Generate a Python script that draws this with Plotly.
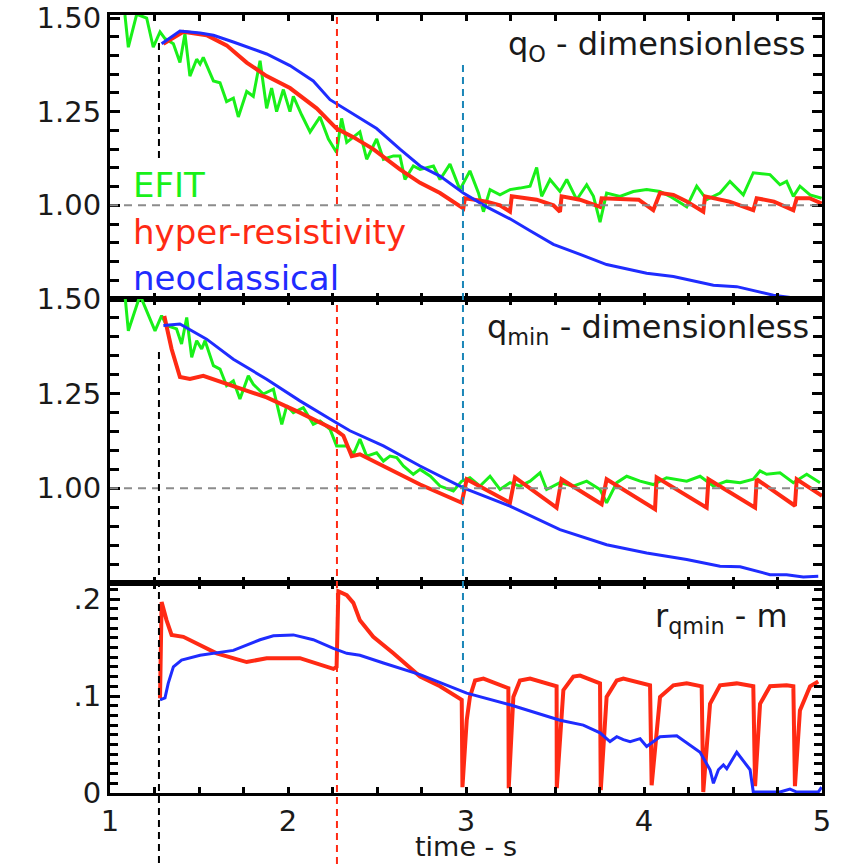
import plotly.graph_objects as go
from plotly.subplots import make_subplots

# ---------------- data ----------------
efit_q0_t = [1.084,1.103,1.150,1.206,1.243,1.281,1.309,1.356,1.393,1.421,1.449,1.487,1.506,1.524,1.581,1.618,1.655,1.693,1.721,1.768,1.805,1.843,1.880,1.908,1.936,1.974,2.011,2.030,2.077,2.124,2.180,2.227,2.273,2.301,2.330,2.404,2.442,2.498,2.536,2.592,2.629,2.657,2.704,2.742,2.817,2.854,2.910,2.966,3.022,3.070,3.098,3.135,3.191,3.247,3.303,3.360,3.397,3.425,3.472,3.528,3.566,3.622,3.678,3.716,3.753,3.790,3.865,3.940,4.015,4.090,4.146,4.240,4.296,4.352,4.427,4.483,4.558,4.614,4.708,4.764,4.801,4.839,4.876,4.933,4.998]
efit_q0 = [1.508,1.422,1.51,1.50,1.422,1.463,1.445,1.431,1.381,1.458,1.345,1.390,1.377,1.395,1.332,1.327,1.277,1.286,1.236,1.304,1.291,1.386,1.259,1.313,1.25,1.309,1.25,1.291,1.241,1.196,1.236,1.177,1.141,1.232,1.168,1.196,1.123,1.177,1.123,1.132,1.132,1.069,1.105,1.096,1.105,1.069,1.110,1.042,1.092,1.033,0.983,1.042,1.028,1.042,1.046,1.051,1.101,1.024,1.069,1.037,1.069,1.015,1.055,1.024,0.955,1.033,1.024,1.037,1.042,1.037,1.024,0.996,1.051,1.015,1.033,1.064,1.028,1.087,1.082,1.055,1.064,1.024,1.051,1.028,1.019]
hyper_q0_t = [1.300,1.412,1.543,1.655,1.768,1.880,2.011,2.161,2.273,2.367,2.479,2.629,2.742,2.854,2.985,2.994,3.116,3.191,3.247,3.257,3.397,3.491,3.528,3.537,3.640,3.753,3.762,3.970,4.052,4.090,4.165,4.240,4.333,4.343,4.480,4.614,4.633,4.730,4.839,4.858,4.930,4.998]
hyper_q0 = [1.431,1.463,1.454,1.427,1.381,1.345,1.313,1.259,1.205,1.182,1.150,1.096,1.060,1.033,0.992,1.019,1.010,1.000,0.983,1.024,1.015,1.000,0.983,1.024,1.015,0.996,1.019,1.015,0.987,1.033,1.028,1.010,0.983,1.024,1.010,0.987,1.019,1.010,0.987,1.019,1.019,1.005]
neo_q0_t = [1.290,1.393,1.506,1.581,1.693,1.880,2.011,2.142,2.236,2.348,2.498,2.629,2.742,2.854,2.985,3.116,3.247,3.360,3.491,3.641,3.790,4.015,4.165,4.390,4.521,4.727,4.876,4.979]
neo_q0 = [1.431,1.465,1.460,1.454,1.436,1.404,1.373,1.332,1.282,1.250,1.205,1.150,1.105,1.078,1.033,0.996,0.964,0.932,0.896,0.869,0.842,0.819,0.810,0.787,0.783,0.760,0.751,0.754]

efit_qmin_t = [1.084,1.103,1.169,1.253,1.290,1.318,1.374,1.402,1.431,1.459,1.487,1.515,1.534,1.581,1.618,1.655,1.693,1.730,1.777,1.805,1.861,1.918,1.965,1.993,2.030,2.086,2.142,2.180,2.236,2.273,2.330,2.367,2.404,2.442,2.498,2.536,2.573,2.611,2.648,2.704,2.742,2.800,2.854,2.929,2.976,3.022,3.079,3.135,3.191,3.247,3.303,3.360,3.416,3.453,3.528,3.603,3.678,3.753,3.790,3.847,3.903,3.978,4.052,4.127,4.240,4.315,4.390,4.465,4.540,4.614,4.652,4.689,4.764,4.839,4.914,4.989]
efit_qmin = [1.51,1.416,1.51,1.416,1.456,1.430,1.421,1.381,1.451,1.346,1.390,1.368,1.390,1.324,1.315,1.271,1.284,1.236,1.297,1.275,1.249,1.262,1.169,1.218,1.200,1.213,1.169,1.178,1.156,1.112,1.112,1.090,1.130,1.085,1.094,1.072,1.085,1.081,1.059,1.037,1.050,1.032,1.006,0.993,1.019,1.028,1.006,1.032,0.997,1.015,1.006,1.019,1.041,0.997,1.015,1.006,1.019,0.997,0.962,1.015,1.032,1.019,1.010,1.028,1.019,1.032,1.006,1.019,1.015,1.024,1.046,1.037,1.041,1.015,1.037,1.015]
hyper_qmin_t = [1.305,1.346,1.393,1.449,1.524,1.655,1.880,2.067,2.273,2.311,2.358,2.404,2.536,2.742,2.976,3.004,3.247,3.275,3.509,3.537,3.762,3.790,4.062,4.071,4.352,4.362,4.624,4.633,4.848,4.858,5.0]
hyper_qmin = [1.455,1.368,1.294,1.289,1.297,1.275,1.240,1.200,1.152,1.139,1.085,1.090,1.059,1.010,0.962,1.024,0.962,1.029,0.949,1.024,0.958,1.024,0.945,1.029,0.949,1.024,0.949,1.024,0.954,1.024,0.980]
neo_qmin_t = [1.300,1.393,1.543,1.693,1.880,2.067,2.255,2.348,2.536,2.742,2.985,3.247,3.528,3.790,4.015,4.240,4.427,4.540,4.708,4.801,4.895,4.979]
neo_qmin = [1.430,1.434,1.394,1.341,1.288,1.231,1.178,1.152,1.112,1.059,1.001,0.953,0.891,0.851,0.829,0.812,0.794,0.793,0.772,0.772,0.766,0.768]

hyper_r_t = [1.281,1.290,1.318,1.346,1.412,1.506,1.599,1.768,1.880,2.067,2.255,2.273,2.283,2.330,2.367,2.404,2.479,2.592,2.742,2.854,2.976,2.980,3.004,3.022,3.051,3.098,3.238,3.240,3.266,3.303,3.360,3.509,3.510,3.547,3.603,3.641,3.753,3.757,3.790,3.847,3.884,4.034,4.043,4.090,4.165,4.240,4.324,4.333,4.371,4.427,4.521,4.614,4.624,4.652,4.708,4.801,4.839,4.848,4.876,4.933,4.979]
hyper_r = [0.0976,0.197,0.178,0.163,0.161,0.153,0.144,0.135,0.139,0.139,0.128,0.130,0.208,0.204,0.196,0.178,0.161,0.144,0.120,0.110,0.096,0.006,0.075,0.099,0.116,0.118,0.108,0.005,0.099,0.116,0.118,0.110,0.005,0.106,0.120,0.121,0.113,0.003,0.099,0.116,0.118,0.111,0.008,0.099,0.111,0.113,0.110,0.001,0.092,0.111,0.113,0.110,0.007,0.092,0.110,0.111,0.110,0.007,0.085,0.110,0.115]
neo_r_t = [1.281,1.309,1.327,1.356,1.402,1.506,1.693,1.843,1.918,2.030,2.142,2.255,2.330,2.404,2.536,2.742,3.004,3.247,3.528,3.659,3.753,3.809,3.847,3.884,3.922,3.978,4.015,4.090,4.184,4.315,4.371,4.390,4.418,4.446,4.465,4.521,4.596,4.614,4.764,4.820,4.858,4.979,4.998]
neo_r = [0.096,0.098,0.113,0.130,0.137,0.142,0.147,0.158,0.162,0.163,0.158,0.149,0.144,0.142,0.134,0.122,0.103,0.091,0.075,0.070,0.062,0.053,0.058,0.055,0.053,0.056,0.048,0.058,0.059,0.042,0.024,0.010,0.024,0.029,0.025,0.042,0.024,0.001,0.001,0.004,0.001,0.001,0.006]

t_black = 1.275
t_red = 2.275
t_blue = 2.983

x_ticks = [1, 2, 3, 4, 5]
q_ticks = [1.00, 1.25, 1.50]
q_ticktext = ["1.00", "1.25", "1.50"]
r_ticks = [0, 0.1, 0.2]
r_ticktext = ["0", ".1", ".2"]

GREEN = "#19f019"
RED = "#ff2a14"
BLUE = "#1f2cff"
FONT = "DejaVu Sans"
INK = "#1a1a1a"
TICKC = "black"

fig = make_subplots(rows=3, cols=1, shared_xaxes=True, vertical_spacing=0,
                    row_heights=[284, 284, 210])

def add_panel(row, te, ye, th, yh, tn, yn):
    if te is not None:
        fig.add_trace(go.Scatter(x=te, y=ye, mode="lines", line=dict(color=GREEN, width=3),
                                 showlegend=False), row=row, col=1)
    fig.add_trace(go.Scatter(x=th, y=yh, mode="lines", line=dict(color=RED, width=4),
                             showlegend=False), row=row, col=1)
    fig.add_trace(go.Scatter(x=tn, y=yn, mode="lines", line=dict(color=BLUE, width=3),
                             showlegend=False), row=row, col=1)

add_panel(1, efit_q0_t, efit_q0, hyper_q0_t, hyper_q0, neo_q0_t, neo_q0)
add_panel(2, efit_qmin_t, efit_qmin, hyper_qmin_t, hyper_qmin, neo_qmin_t, neo_qmin)
add_panel(3, None, None, hyper_r_t, hyper_r, neo_r_t, neo_r)

for r in (1, 2):
    fig.add_hline(y=1.0, line=dict(color="#8c8c8c", width=2, dash="8px,6px"), row=r, col=1)

def paper_y(py):
    return (793 - py) / 778.0

vlines = [
    (t_black, 43, 160, "#000000"),
    (t_black, 352, 864, "#000000"),
    (t_red, 17, 207, "#ff2a14"),
    (t_red, 305, 864, "#ff2a14"),
    (t_blue, 65, 683, "#1b86b8"),
]
for t, p0, p1, c in vlines:
    fig.add_shape(type="line", xref="x", yref="paper", x0=t, x1=t,
                  y0=paper_y(p0), y1=paper_y(p1),
                  line=dict(color=c, width=2, dash="7px,5px"))

fig.update_xaxes(range=[1, 5], tickmode="array", tickvals=x_ticks,
                 showline=True, linecolor="black", linewidth=3, mirror="ticks",
                 ticks="inside", ticklen=6, tickwidth=3, tickcolor=TICKC,
                 showgrid=False, zeroline=False, automargin=False,
                 tickfont=dict(family=FONT, size=29, color=INK),
                 minor=dict(ticks="inside", tickmode="linear", tick0=1, dtick=0.25,
                            ticklen=6, tickwidth=3, tickcolor=TICKC, showgrid=False))
fig.update_xaxes(showticklabels=True, row=3, col=1)

fig.update_yaxes(showline=True, linecolor="black", linewidth=3, mirror="ticks",
                 ticks="inside", ticklen=10, tickwidth=3, tickcolor=TICKC,
                 showgrid=False, zeroline=False, automargin=False,
                 tickfont=dict(family=FONT, size=29, color=INK))
fig.update_yaxes(range=[0.75, 1.508], tickmode="array", tickvals=q_ticks, ticktext=q_ticktext,
                 minor=dict(ticks="inside", tickmode="linear", tick0=0.75, dtick=0.05,
                            ticklen=9, tickwidth=3, tickcolor=TICKC, showgrid=False),
                 row=1, col=1)
fig.update_yaxes(range=[0.75, 1.5], tickmode="array", tickvals=q_ticks, ticktext=q_ticktext,
                 minor=dict(ticks="inside", tickmode="linear", tick0=0.75, dtick=0.05,
                            ticklen=9, tickwidth=3, tickcolor=TICKC, showgrid=False),
                 row=2, col=1)
fig.update_yaxes(range=[0, 0.2165], tickmode="array", tickvals=r_ticks, ticktext=r_ticktext,
                 minor=dict(ticks="inside", tickmode="linear", tick0=0, dtick=0.01,
                            ticklen=8, tickwidth=3, tickcolor=TICKC, showgrid=False),
                 row=3, col=1)

ann_font = dict(family=FONT, size=34)
annotations = [
    dict(x=1.12, y=1.055, xref="x", yref="y", text="EFIT", font=dict(color=GREEN, **ann_font)),
    dict(x=1.12, y=0.93, xref="x", yref="y", text="hyper-resistivity", font=dict(color=RED, **ann_font)),
    dict(x=1.12, y=0.805, xref="x", yref="y", text="neoclassical", font=dict(color=BLUE, **ann_font)),
]
for a in annotations:
    fig.add_annotation(xanchor="left", yanchor="middle", showarrow=False, **a)

title_font = dict(family=FONT, size=32, color=INK)
fig.add_annotation(x=4.92, y=1.425, xref="x", yref="y", text="q<sub>O</sub> - dimensionless",
                   xanchor="right", yanchor="middle", showarrow=False, font=title_font)
fig.add_annotation(x=4.94, y=1.42, xref="x2", yref="y2", text="q<sub>min</sub> - dimensionless",
                   xanchor="right", yanchor="middle", showarrow=False, font=title_font)
fig.add_annotation(x=4.82, y=0.18, xref="x3", yref="y3", text="r<sub>qmin</sub> - m",
                   xanchor="right", yanchor="middle", showarrow=False, font=title_font)
fig.add_annotation(x=0.5, y=paper_y(847), xref="paper", yref="paper", text="time - s",
                   xanchor="center", yanchor="middle", showarrow=False,
                   font=dict(family=FONT, size=27, color=INK))

fig.update_layout(width=844, height=864, plot_bgcolor="white", paper_bgcolor="white",
                  margin=dict(l=110, r=22, t=15, b=71, autoexpand=False), showlegend=False)

fig.write_html("out.html")
